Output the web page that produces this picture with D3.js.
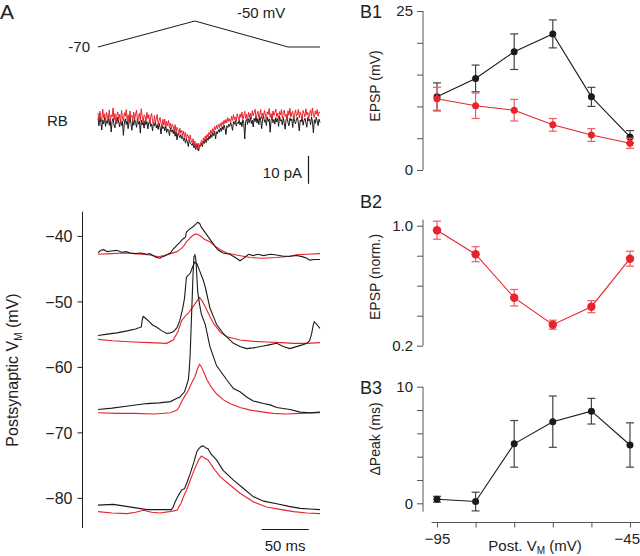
<!DOCTYPE html>
<html><head><meta charset="utf-8">
<script src="https://cdn.jsdelivr.net/npm/d3@7/dist/d3.min.js"></script>
<style>
body{margin:0;background:#fff;}
text{font-family:Arial,"Liberation Sans",Helvetica,sans-serif;fill:#222;}
</style></head>
<body>
<svg id="c" width="640" height="556"></svg>
<script>
// ---------- DATA ----------
// Panel A: command waveform [time ms, mV]
const cmdWave = [[0,-70],[103,-50],[202,-70],[236,-70]];
// RB current traces (pA, sampled every 1 ms from 0 to 236 ms)
const rbDt = 1;
const rbRed = [
 1.8,-0.9,2.4,0.5,-1.4,3.2,0.1,1.5,-1.7,2.0,
 0.8,-0.3,2.9,-1.2,1.1,0.4,3.6,-0.8,1.6,-2.0,
 0.9,2.2,-0.5,1.3,-1.6,2.7,0.0,-1.1,1.9,0.6,
 3.0,-0.7,1.2,-1.9,2.5,0.3,1.0,-1.3,2.1,-0.4,
 1.4,2.8,-1.5,0.2,1.7,-0.9,3.3,0.5,-1.8,1.1,
 0.6,-1.4,2.0,-0.2,1.2,-2.1,0.4,1.6,-1.0,-2.5,
 0.9,-1.6,-0.3,1.3,-2.4,-0.8,0.2,-1.9,-3.0,-0.5,
 -2.6,-0.4,-3.1,-1.2,-2.8,-0.9,-3.5,-1.8,-4.0,-2.2,
 -3.0,-4.6,-2.4,-5.0,-3.3,-4.1,-6.0,-3.7,-5.4,-4.4,
 -6.3,-4.7,-6.9,-5.2,-7.6,-5.8,-6.5,-8.3,-6.1,-7.9,
 -8.8,-7.4,-9.9,-8.2,-10.8,-9.4,-11.5,-9.0,-10.6,-9.2,
 -8.0,-9.4,-7.1,-8.3,-6.4,-7.5,-5.8,-6.9,-5.1,-6.0,
 -4.3,-5.5,-3.8,-4.9,-3.1,-4.2,-2.6,-3.9,-2.3,-3.4,
 -1.9,-3.0,-1.4,-2.4,-0.8,-2.0,-0.5,-1.7,0.1,-1.2,
 -0.3,-1.8,0.6,-0.9,1.2,-0.6,0.4,-1.3,1.5,0.0,
 -0.8,1.4,0.2,2.1,-0.5,0.9,2.4,-0.2,1.3,-1.1,
 2.0,0.3,1.7,-0.4,2.6,0.8,1.9,3.1,-0.1,1.2,
 2.4,0.1,1.5,3.0,-0.3,1.8,0.6,2.7,1.0,-0.5,
 2.2,1.3,3.4,0.2,1.6,-0.6,2.5,0.9,2.0,3.2,
 0.4,1.7,-0.2,2.3,1.1,3.0,0.0,1.9,2.8,0.5,
 1.4,-0.7,2.6,1.0,3.5,0.3,1.8,2.4,-0.4,1.2,
 2.9,0.6,1.5,3.1,0.0,2.2,1.0,-0.5,2.7,1.6,
 0.4,3.3,1.1,2.0,-0.3,1.7,2.9,0.7,3.6,1.3,
 0.2,2.5,1.4,3.0,0.6,2.2,1.8];
const rbBlack = [
 -0.2,-2.8,0.5,-1.6,-4.3,-0.7,-2.1,0.3,-3.0,-1.0,
 -1.9,0.6,-2.6,-0.5,-5.0,-1.3,-0.1,-2.4,-3.5,-0.8,
 -2.0,0.2,-1.5,-3.2,-0.6,-2.7,-1.1,-6.2,-1.8,-0.3,
 -2.3,-0.9,-3.8,-1.4,0.4,-2.0,-4.4,-1.0,-2.6,-0.5,
 -1.7,-3.3,-0.2,-2.2,-1.2,-5.4,-0.8,-2.5,-1.5,-3.6,
 -0.9,-2.4,-1.3,-3.9,-1.8,-0.6,-3.0,-2.1,-4.6,-1.6,
 -2.8,-1.5,-3.6,-2.4,-4.1,-1.9,-3.3,-5.7,-2.6,-3.8,
 -3.1,-4.6,-2.7,-5.2,-3.9,-4.4,-6.3,-3.5,-5.0,-4.2,
 -5.6,-4.3,-6.5,-5.0,-7.8,-5.5,-6.2,-7.0,-5.9,-7.4,
 -6.6,-8.1,-7.2,-9.0,-7.5,-8.4,-10.2,-7.9,-8.8,-9.3,
 -9.8,-8.9,-10.7,-9.5,-11.3,-9.1,-10.4,-11.8,-9.7,-10.1,
 -9.0,-10.2,-8.4,-9.1,-7.6,-8.8,-7.2,-8.0,-6.5,-7.4,
 -5.8,-6.9,-5.2,-6.3,-4.7,-7.5,-4.9,-5.6,-4.2,-5.1,
 -3.6,-4.8,-3.1,-4.2,-2.5,-3.7,-5.9,-2.8,-3.4,-2.2,
 -3.0,-1.7,-2.6,-4.4,-1.3,-2.2,-0.9,-2.9,-1.6,-2.0,
 -0.8,-2.5,-1.4,-3.1,-0.6,-1.9,-7.5,-1.2,-0.4,-2.3,
 -0.3,-1.6,0.4,-2.0,-0.8,-3.2,-0.1,-1.3,0.6,-1.8,
 -0.2,-2.4,0.5,-1.0,-3.8,-0.4,0.8,-1.5,-0.6,-2.7,
 0.3,-1.2,-0.3,-5.1,-0.9,0.6,-1.7,-0.5,-2.2,0.1,
 -1.4,-0.2,-3.0,0.7,-1.1,-0.6,-2.5,0.2,-1.9,-4.0,
 -0.5,0.4,-1.6,-2.8,0.0,-1.0,-0.3,-3.4,0.6,-1.2,
 -2.1,-0.4,0.3,-1.8,-4.6,-0.7,-1.3,0.5,-2.6,-0.9,
 -0.1,-1.7,-3.3,0.2,-1.0,-0.5,-2.4,0.4,-1.5,-5.3,
 -0.6,-1.9,0.3,-1.1,-2.7,-0.4,-1.6];
// Postsynaptic voltage traces [time ms, mV]
const v1Black = [[0,-42.6],[3,-42.2],[6,-42.1],[10,-42.4],[14,-42.3],[20,-42.2],[25,-42.5],[30,-42.4],[34,-42.6],[40,-42.7],[46,-42.6],[52,-42.8],[55,-42.7],[60,-43.1],[62,-43.3],[66,-43.4],[68,-43.2],[72,-43.0],[77,-42.6],[80,-42.0],[84,-41.4],[87,-41.0],[90,-40.5],[93,-40.2],[94,-39.4],[97,-39.0],[101,-38.6],[104,-38.2],[106,-37.9],[108,-38.1],[110,-38.7],[114,-39.5],[118,-40.3],[121,-40.9],[125,-41.7],[128,-42.2],[133,-42.6],[140,-42.8],[146,-43.3],[151,-43.8],[154,-43.5],[160,-42.8],[165,-43.0],[170,-42.8],[176,-43.0],[183,-42.8],[190,-42.9],[197,-43.1],[204,-43.1],[211,-43.0],[218,-43.2],[222,-43.4],[225,-43.7],[230,-43.6],[236,-43.6]];
const v1Red = [[0,-42.8],[15,-42.7],[27,-42.6],[40,-42.7],[55,-42.9],[64,-43.2],[70,-43.0],[77,-42.7],[84,-42.4],[87,-42.1],[91,-41.6],[94,-40.9],[98,-40.3],[101,-39.9],[104,-39.7],[108,-39.9],[113,-40.5],[119,-40.9],[125,-41.6],[130,-42.1],[137,-42.6],[147,-42.9],[162,-43.3],[175,-43.4],[190,-43.3],[204,-43.1],[211,-42.9],[222,-42.8],[236,-42.7]];
const v2Black = [[0,-55.2],[10,-55.0],[20,-54.8],[31,-54.5],[40,-54.2],[46,-53.9],[47,-52.8],[48,-52.3],[50,-52.5],[53,-52.9],[58,-53.6],[62,-53.9],[68,-54.5],[73,-54.9],[77,-54.8],[80,-54.65],[84,-54.0],[87,-52.9],[90,-51.1],[92,-49.5],[94,-46.3],[98,-45.7],[101,-44.6],[103,-44.0],[105,-44.2],[108,-45.3],[112,-46.8],[114,-47.8],[119,-51.0],[126,-53.5],[133,-54.9],[144,-56.4],[151,-56.9],[158,-57.2],[165,-57.1],[176,-56.8],[183,-56.6],[190,-56.4],[197,-56.9],[204,-57.2],[211,-56.9],[218,-56.6],[222,-56.4],[225,-56.0],[227,-55.0],[229,-53.5],[230,-53.1],[233,-53.6],[236,-54.1]];
const v2Red = [[0,-55.8],[15,-56.0],[38,-56.2],[55,-56.3],[73,-56.4],[80,-55.9],[85,-54.6],[89,-52.9],[93,-52.2],[96,-51.8],[101,-50.8],[105,-50.0],[108,-49.4],[111,-50.0],[114,-50.8],[119,-52.3],[123,-53.4],[130,-54.7],[137,-55.4],[151,-55.9],[165,-56.1],[179,-56.2],[195,-56.3],[208,-56.4],[222,-56.4],[236,-56.3]];
const v3Black = [[0,-66.5],[15,-66.3],[30,-66.0],[52,-65.6],[65,-65.5],[77,-65.3],[84,-64.8],[87,-64.6],[92,-63.8],[96,-62.0],[97,-60.5],[98,-58.0],[99,-54],[100,-50],[101,-46],[102,-43.2],[103,-42.9],[104,-43.5],[105,-46],[106,-48.5],[108,-50.5],[110,-52.0],[114,-53.5],[119,-56.9],[126,-59.8],[137,-62.0],[144,-63.3],[151,-63.8],[158,-64.6],[165,-65.2],[176,-65.6],[183,-65.8],[190,-66.2],[204,-66.5],[215,-66.9],[225,-67.0],[236,-66.9]];
const v3Red = [[0,-67.0],[20,-67.1],[38,-67.1],[60,-67.2],[77,-67.0],[84,-66.6],[86,-66.2],[89,-65.3],[92,-64.5],[96,-63.6],[100,-62.3],[103,-61.5],[106,-60.2],[108,-59.6],[110,-60.0],[113,-61.0],[116,-62.0],[121,-63.2],[126,-64.1],[133,-65.0],[140,-65.6],[151,-66.2],[162,-66.6],[176,-66.9],[186,-67.1],[200,-67.2],[215,-67.1],[236,-67.0]];
const v4Black = [[0,-81.1],[16,-81.0],[30,-81.3],[52,-81.8],[66,-81.8],[78,-81.8],[80,-81.4],[82,-80.6],[86,-79.5],[89,-78.8],[92,-78.6],[95,-77.5],[98,-76.3],[102,-74.5],[105,-73.0],[107,-72.5],[110,-72.1],[112,-72.1],[115,-72.4],[117,-72.5],[120,-73.3],[126,-74.2],[133,-75.8],[144,-77.3],[155,-78.6],[165,-79.8],[176,-80.5],[190,-80.9],[203,-81.3],[215,-81.6],[225,-81.7],[236,-81.8]];
const v4Red = [[0,-82.1],[15,-82.3],[31,-82.4],[40,-82.2],[48,-81.9],[57,-82.2],[66,-82.3],[76,-82.1],[84,-81.9],[88,-80.9],[91,-79.8],[95,-78.5],[98,-77.3],[103,-75.5],[107,-74.2],[110,-73.6],[113,-73.9],[117,-74.2],[123,-75.5],[130,-76.8],[140,-78.0],[151,-79.3],[165,-80.6],[179,-81.4],[195,-81.8],[208,-82.1],[222,-82.3],[236,-82.4]];
const vTicks = [-40,-50,-60,-70,-80];

// Panel B
const vm = [-95,-85,-75,-65,-55,-45];
const b1Black = [11.5,14.4,18.6,21.4,11.5,5.2];
const b1BlackErr = [2.2,2.1,2.8,2.2,1.5,1.0];
const b1Red = [11.2,10.1,9.4,7.1,5.5,4.2];
const b1RedErr = [1.8,2.0,1.7,1.0,1.0,0.8];
const b2Red = [0.97,0.81,0.52,0.34,0.46,0.78];
const b2RedErr = [0.06,0.05,0.055,0.03,0.04,0.05];
const b3Black = [0.35,0.15,5.1,7.0,7.9,5.0];
const b3BlackErr = [0.25,0.8,2.0,2.2,1.1,1.9];

// ---------- DRAW ----------
const RED = "#e8232b", BLK = "#1a1a1a", AX = "#555";
const svg = d3.select("#c");

// Panel A scales
const tX = d3.scaleLinear().domain([0,236]).range([98,320]);
const cmdY = d3.scaleLinear().domain([-70,-50]).range([47,21]);
const iY = d3.scaleLinear().domain([-15,8]).range([160,95.6]);
const vY = d3.scaleLinear().domain([-84.6,-36.3]).range([528,211.7]);

svg.append("text").attr("x",0).attr("y",19).attr("font-size",21).text("A");

// command
svg.append("path").datum(cmdWave)
  .attr("d", d3.line().x(d=>tX(d[0])).y(d=>cmdY(d[1])))
  .attr("fill","none").attr("stroke",BLK).attr("stroke-width",1);
svg.append("text").attr("x",90).attr("y",52).attr("text-anchor","end").attr("font-size",15).text("-70");
svg.append("text").attr("x",237).attr("y",18).attr("font-size",15).text("-50 mV");

// RB currents
const iLine = d3.line().x((d,i)=>tX(i*rbDt)).y(d=>iY(d));
svg.append("path").datum(rbBlack).attr("d",iLine).attr("fill","none").attr("stroke",BLK).attr("stroke-width",1);
svg.append("path").datum(rbRed).attr("d",iLine).attr("fill","none").attr("stroke",RED).attr("stroke-width",1);
svg.append("text").attr("x",47).attr("y",126).attr("font-size",15).text("RB");
// 10 pA scale bar
svg.append("line").attr("x1",308.5).attr("x2",308.5).attr("y1",iY(-13.5)).attr("y2",iY(-13.5)+(iY(-10)-iY(0)))
  .attr("stroke",BLK).attr("stroke-width",1.2);
svg.append("text").attr("x",302).attr("y",178).attr("text-anchor","end").attr("font-size",15).text("10 pA");

// voltage axis
const vAxis = d3.axisLeft(vY).tickValues(vTicks).tickSize(5).tickPadding(5).tickFormat(d3.format("d"));
const gA = svg.append("g").attr("transform","translate(82.5,0)").call(vAxis);
gA.select(".domain").attr("stroke",BLK).attr("d",`M0,${vY(-36.3)}V${vY(-84.6)}`);
gA.selectAll(".tick line").attr("stroke",BLK);
gA.selectAll(".tick text").attr("font-size",16).attr("fill","#222").style("font-family","Arial,'Liberation Sans',sans-serif").attr("dy","0.36em");

const vLine = d3.line().x(d=>tX(d[0])).y(d=>vY(d[1]));
[[v1Black,v1Red],[v2Black,v2Red],[v3Black,v3Red],[v4Black,v4Red]].forEach(([b,r])=>{
  svg.append("path").datum(r).attr("d",vLine).attr("fill","none").attr("stroke",RED).attr("stroke-width",1.1);
  svg.append("path").datum(b).attr("d",vLine).attr("fill","none").attr("stroke",BLK).attr("stroke-width",1.1);
});
// 50 ms scale bar
svg.append("line").attr("x1",tX(174)).attr("x2",tX(224)).attr("y1",529.5).attr("y2",529.5).attr("stroke",BLK).attr("stroke-width",1.2);
svg.append("text").attr("x",(tX(174)+tX(224))/2).attr("y",551).attr("text-anchor","middle").attr("font-size",15).text("50 ms");
// y label
const yl = svg.append("text").attr("transform","translate(18,370) rotate(-90)").attr("text-anchor","middle").attr("font-size",16);
yl.append("tspan").text("Postsynaptic V");
yl.append("tspan").attr("font-size",10).attr("dy",4).text("M");
yl.append("tspan").attr("dy",-4).text(" (mV)");

// Panel B
const xB = d3.scaleLinear().domain([-95,-45]).range([437,630]);
const axisX = 423;

function leftAxis(scale, ticks, labels, fmt, top, bottom){
  const ax = d3.axisLeft(scale).tickValues(ticks).tickSize(6).tickPadding(4)
    .tickFormat(d => labels.includes(d) ? fmt(d) : "");
  const g = svg.append("g").attr("transform",`translate(${axisX},0)`).call(ax);
  g.select(".domain").attr("stroke",AX).attr("d",`M0,${top}V${bottom}`);
  g.selectAll(".tick line").attr("stroke",AX);
  g.selectAll(".tick text").attr("font-size",15).attr("fill","#222").style("font-family","Arial,'Liberation Sans',sans-serif");
  return g;
}
function series(scale, vals, errs, color, errColor, r){
  const g = svg.append("g");
  g.append("path").datum(vals).attr("d", d3.line().x((d,i)=>xB(vm[i])).y(d=>scale(d)))
    .attr("fill","none").attr("stroke",color).attr("stroke-width",1.1);
  vals.forEach((v,i)=>{
    const x = xB(vm[i]), y1 = scale(v+errs[i]), y2 = scale(v-errs[i]);
    g.append("line").attr("x1",x).attr("x2",x).attr("y1",y1).attr("y2",y2).attr("stroke",errColor).attr("stroke-width",1.2);
    [y1,y2].forEach(yy=>g.append("line").attr("x1",x-4).attr("x2",x+4).attr("y1",yy).attr("y2",yy).attr("stroke",errColor).attr("stroke-width",1.2));
  });
  g.selectAll("circle.p").data(vals).join("circle").attr("cx",(d,i)=>xB(vm[i])).attr("cy",d=>scale(d)).attr("r",r).attr("fill",color);
}
function ylabel(txt, cx, cy){
  svg.append("text").attr("transform",`translate(${cx},${cy}) rotate(-90)`).attr("text-anchor","middle").attr("font-size",14).text(txt);
}

// B1
const y1 = d3.scaleLinear().domain([0,25]).range([170,11]);
leftAxis(y1,[0,5,10,15,20,25],[0,25],d3.format("d"),y1(25),y1(0));
series(y1,b1Black,b1BlackErr,BLK,"#444",3.5);
series(y1,b1Red,b1RedErr,RED,"#ef5a5f",3.5);
svg.append("text").attr("x",360).attr("y",18).attr("font-size",18).text("B1");
ylabel("EPSP (mV)",380,86);

// B2
const y2 = d3.scaleLinear().domain([0.2,1.0]).range([345.7,225.7]);
leftAxis(y2,[0.2,0.4,0.6,0.8,1.0],[0.2,1.0],d3.format(".1f"),y2(1.04),y2(0.2));
series(y2,b2Red,b2RedErr,RED,"#ef5a5f",4.2);
svg.append("text").attr("x",360).attr("y",208).attr("font-size",18).text("B2");
ylabel("EPSP (norm.)",380,277);

// B3
const y3 = d3.scaleLinear().domain([0,10]).range([503.3,386.7]);
leftAxis(y3,[0,2,4,6,8,10],[0,10],d3.format("d"),y3(10),y3(-0.72));
series(y3,b3Black,b3BlackErr,BLK,"#444",3.5);
svg.append("text").attr("x",360).attr("y",394).attr("font-size",18).text("B3");
ylabel("\u0394Peak (ms)",380,439);

// x axis B3
const xAx = d3.axisBottom(xB).tickValues(vm).tickSize(5).tickPadding(6)
  .tickFormat(d => (d===-95||d===-45) ? d3.format("d")(d) : "");
const gx = svg.append("g").attr("transform","translate(0,522.5)").call(xAx);
gx.select(".domain").attr("stroke",AX).attr("d",`M${xB(-96.4)},0H${xB(-42.2)}`);
gx.selectAll(".tick line").attr("stroke",AX);
gx.selectAll(".tick text").attr("font-size",15).attr("fill","#222").style("font-family","Arial,'Liberation Sans',sans-serif");
gx.selectAll(".tick text").filter(d=>d===-45).attr("text-anchor","end").attr("x",9.5);
const xl = svg.append("text").attr("x",535).attr("y",551).attr("text-anchor","middle").attr("font-size",15);
xl.append("tspan").text("Post. V");
xl.append("tspan").attr("font-size",10).attr("dy",3).text("M");
xl.append("tspan").attr("dy",-3).text(" (mV)");
</script>
</body></html>
